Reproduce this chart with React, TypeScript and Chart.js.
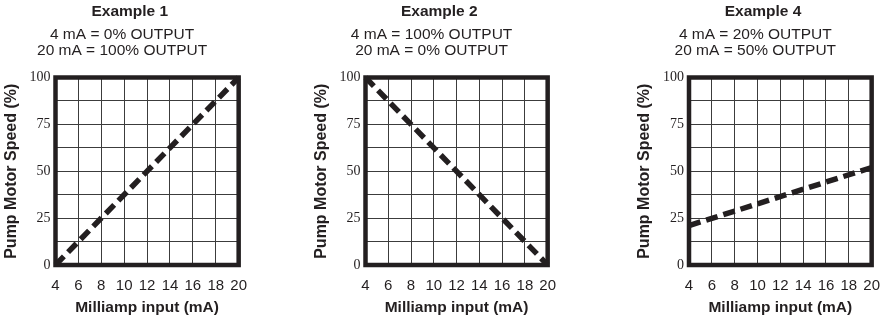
import { useEffect, useRef } from 'react';
import { Chart, registerables } from 'chart.js';

Chart.register(...registerables);

// ---- data ----
const milliampInput = [4, 20];
const example1Speed = [0, 100];
const example2Speed = [100, 0];
const example4Speed = [21, 52];

const xTicks = [4, 6, 8, 10, 12, 14, 16, 18, 20];
const yGridTicks = [0, 12.5, 25, 37.5, 50, 62.5, 75, 87.5, 100];
const yLabelTicks = [0, 25, 50, 75, 100];

const panelTitles = ['Example 1', 'Example 2', 'Example 4'];
const panelSubtitles = [
  ['4 mA = 0% OUTPUT', '20 mA = 100% OUTPUT'],
  ['4 mA = 100% OUTPUT', '20 mA = 0% OUTPUT'],
  ['4 mA = 20% OUTPUT', '20 mA = 50% OUTPUT'],
];
const panelSpeeds = [example1Speed, example2Speed, example4Speed];

const xAxisTitle = 'Milliamp input (mA)';
const yAxisTitle = 'Pump Motor Speed (%)';

// ---- layout / style ----
const INK = '#231f20';
const GRID = '#3c3c3c';
const SANS = '"Liberation Sans", Arial, Helvetica, sans-serif';
const SERIF = '"Liberation Serif", "Times New Roman", serif';
const H = 318;
const PLOT_TOP = 77.5;
const PLOT_BOTTOM = 265;
const X_AXIS_H = 52;
const panelBox = [
  { left: 55.5, right: 245 },
  { left: 365.5, right: 554 },
  { left: 689, right: 878 },
];

const framePlugin = {
  id: 'frame',
  beforeDatasetsDraw(chart: any) {
    const { ctx, chartArea } = chart;
    ctx.save();
    ctx.strokeStyle = INK;
    ctx.lineWidth = 4.5;
    ctx.lineJoin = 'miter';
    ctx.strokeRect(chartArea.left, chartArea.top, chartArea.right - chartArea.left, chartArea.bottom - chartArea.top);
    ctx.restore();
  },
};

function headerPlugin(idx: number) {
  return {
    id: 'header' + idx,
    afterDraw(chart: any) {
      const { ctx, chartArea } = chart;
      const cx = (chartArea.left + chartArea.right) / 2;
      ctx.save();
      ctx.fillStyle = INK;
      ctx.textAlign = 'center';
      ctx.textBaseline = 'alphabetic';
      ctx.font = `bold 15.5px ${SANS}`;
      ctx.fillText(panelTitles[idx], cx - 17.3, 16);
      ctx.font = `15.5px ${SANS}`;
      panelSubtitles[idx].forEach((t, i) => ctx.fillText(t, cx - 25, 38.5 + i * 16));
      ctx.restore();
    },
  };
}

function Panel({ idx }: { idx: number }) {
  const ref = useRef<HTMLCanvasElement>(null);
  const box = panelBox[idx];
  const x0 = Math.round(box.left - 56);
  const W = Math.ceil(box.right - x0) + 14;
  const speeds = panelSpeeds[idx];

  useEffect(() => {
    const chart = new Chart(ref.current as HTMLCanvasElement, {
      type: 'line',
      data: {
        datasets: [
          {
            data: milliampInput.map((x, i) => ({ x, y: speeds[i] })),
            borderColor: INK,
            borderWidth: 5.5,
            borderDash: [12, 6],
            borderCapStyle: 'butt',
            pointRadius: 0,
            fill: false,
            tension: 0,
            clip: false,
          } as any,
        ],
      },
      options: {
        responsive: false,
        animation: false,
        layout: {
          padding: {
            left: 0,
            right: W - (box.right - x0),
            top: PLOT_TOP,
            bottom: H - PLOT_BOTTOM - X_AXIS_H,
          },
        },
        plugins: {
          legend: { display: false },
          tooltip: { enabled: false },
          title: { display: false },
        },
        scales: {
          x: {
            type: 'linear',
            min: 4,
            max: 20,
            afterBuildTicks: (s: any) => {
              s.ticks = xTicks.map((v) => ({ value: v }));
            },
            afterFit: (s: any) => {
              s.height = X_AXIS_H;
            },
            grid: { color: GRID, lineWidth: 1, drawTicks: false },
            border: { display: false },
            ticks: {
              padding: 12,
              color: INK,
              autoSkip: false,
              maxRotation: 0,
              font: { family: SANS, size: 15 },
            },
            title: {
              display: true,
              text: xAxisTitle,
              color: INK,
              padding: 0,
              font: { family: SANS, size: 15.5, weight: 'bold', lineHeight: '18px' } as any,
            },
          },
          y: {
            type: 'linear',
            min: 0,
            max: 100,
            afterBuildTicks: (s: any) => {
              s.ticks = yGridTicks.map((v) => ({ value: v }));
            },
            afterFit: (s: any) => {
              s.width = box.left - x0;
            },
            grid: { color: GRID, lineWidth: 1, drawTicks: false },
            border: { display: false },
            ticks: {
              padding: 5,
              color: INK,
              autoSkip: false,
              font: { family: SERIF, size: 14 },
              callback: (v: any) => (yLabelTicks.includes(Number(v)) ? String(v) : ''),
            },
            title: {
              display: true,
              text: yAxisTitle,
              color: INK,
              padding: { top: 3, bottom: 0 },
              font: { family: SANS, size: 16, weight: 'bold', lineHeight: '18px' } as any,
            },
          },
        },
      } as any,
      plugins: [framePlugin, headerPlugin(idx)],
    });
    return () => chart.destroy();
  }, []);

  return (
    <canvas
      ref={ref}
      width={W}
      height={H}
      style={{ position: 'absolute', left: x0, top: 0, width: W, height: H }}
    />
  );
}

export default function App() {
  return (
    <div
      style={{
        position: 'fixed',
        left: 0,
        top: 0,
        width: 891,
        height: 318,
        background: '#ffffff',
        overflow: 'hidden',
      }}
    >
      {[0, 1, 2].map((i) => (
        <Panel key={i} idx={i} />
      ))}
    </div>
  );
}
